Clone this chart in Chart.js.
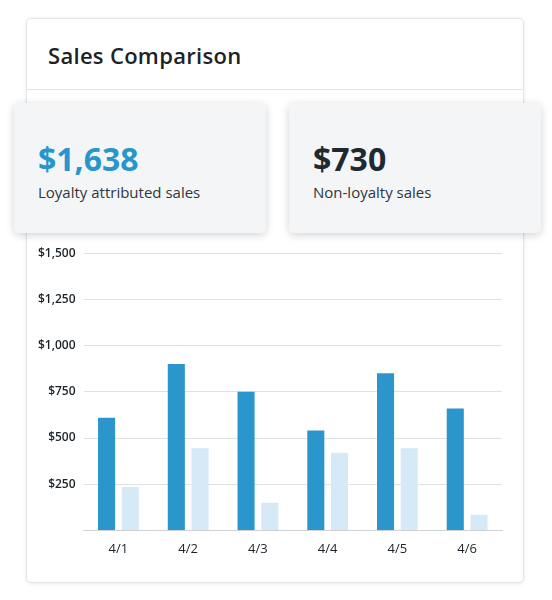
<!DOCTYPE html>
<html>
<head>
<script src="https://cdn.jsdelivr.net/npm/chart.js"></script>
<style>
  body { margin:0; background:#fff; font-family: "Open Sans", Lato, sans-serif; width:552px; height:600px; position:relative; overflow:hidden; }
  .card { position:absolute; left:26px; top:18px; width:496px; height:563px; border:1px solid #e3e5e8; border-radius:5px; box-shadow:0 1px 4px rgba(0,0,0,0.08); background:#fff; }
  .title { position:absolute; left:48px; top:40px; font-size:22px; font-weight:600; color:#1c2328; letter-spacing:0.3px; }
  .rule { position:absolute; left:27px; top:89px; width:496px; height:1px; background:#e3e5e8; }
  .stat { position:absolute; top:103px; width:252px; height:130px; background:#f4f5f7; border-radius:5px; box-shadow:0 2px 8px rgba(0,0,0,0.18); }
  .stat .num { position:absolute; left:24px; top:34px; font-size:32px; font-weight:700; }
  .stat .lbl { position:absolute; left:24px; top:79px; font-size:15px; color:#2f373d; }
  .wrap { position:absolute; left:30px; top:238px; width:480px; height:322px; }
</style>
</head>
<body>
<div class="card"></div>
<div class="title">Sales Comparison</div>
<div class="rule"></div>
<div class="stat" style="left:14px"><div class="num" style="color:#2896cb">$1,638</div><div class="lbl">Loyalty attributed sales</div></div>
<div class="stat" style="left:289px"><div class="num" style="color:#1f2a30">$730</div><div class="lbl">Non-loyalty sales</div></div>
<div class="wrap"><canvas id="c"></canvas></div>
<script>
const days = ["4/1", "4/2", "4/3", "4/4", "4/5", "4/6"];
const loyalty = [610, 900, 750, 540, 850, 660];
const nonLoyalty = [235, 445, 150, 420, 445, 85];

new Chart(document.getElementById("c"), {
  type: "bar",
  data: {
    labels: days,
    datasets: [
      { label: "Loyalty", data: loyalty, backgroundColor: "#2b96cc", categoryPercentage: 0.68, barPercentage: 0.72 },
      { label: "Non-loyalty", data: nonLoyalty, backgroundColor: "#d6e9f6", categoryPercentage: 0.68, barPercentage: 0.72 }
    ]
  },
  options: {
    responsive: true,
    maintainAspectRatio: false,
    animation: false,
    layout: { padding: { top: 4, right: 8 } },
    plugins: { legend: { display: false }, tooltip: { enabled: false } },
    scales: {
      x: {
        grid: { display: false },
        border: { color: "#d0d3d6" },
        ticks: { color: "#1c2328", font: { family: "Open Sans", size: 13 } }
      },
      y: {
        min: 0, max: 1500,
        border: { display: false },
        grid: { color: "#dfe1e4", drawTicks: false },
        ticks: {
          stepSize: 250, padding: 8, color: "#1c2328", font: { family: "Open Sans", size: 12, weight: "600" },
          callback: v => v === 0 ? "" : "$" + v.toLocaleString("en-US")
        }
      }
    }
  }
});
</script>
</body>
</html>
